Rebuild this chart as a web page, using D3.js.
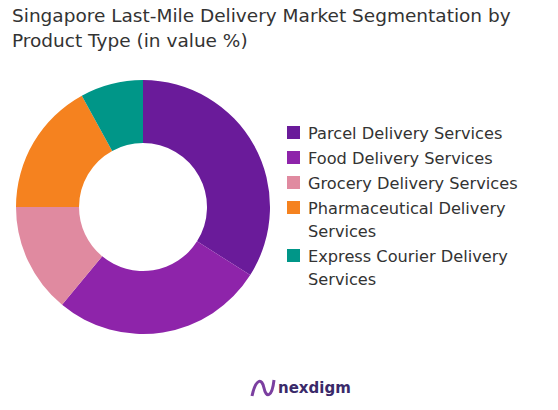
<!DOCTYPE html><html><head><meta charset="utf-8"><script src="https://cdn.jsdelivr.net/npm/d3@7"></script>
<style>body{margin:0;background:#fff}</style></head><body><svg id="c" width="558" height="410"></svg>
<script>
const categories=["Parcel Delivery Services","Food Delivery Services","Grocery Delivery Services","Pharmaceutical Delivery Services","Express Courier Delivery Services"];
const values=[34,27,14,17,8];
const colors=["#6a1b9a","#8e24aa","#e08aa0","#f5821f","#009688"];
const legendLines=[["Parcel Delivery Services"],["Food Delivery Services"],["Grocery Delivery Services"],["Pharmaceutical Delivery","Services"],["Express Courier Delivery","Services"]];
const svg=d3.select("#c"),F="'DejaVu Sans',sans-serif";
svg.append("text").attr("x",12).attr("y",22).attr("font-family",F).attr("font-size",18.5).attr("fill","#333").text("Singapore Last-Mile Delivery Market Segmentation by");
svg.append("text").attr("x",12).attr("y",47).attr("font-family",F).attr("font-size",18.5).attr("fill","#333").text("Product Type (in value %)");
const pie=d3.pie().sort(null)(values);
const arc=d3.arc().innerRadius(64).outerRadius(127);
const g=svg.append("g").attr("transform","translate(143,207)");
g.selectAll("path").data(pie).join("path").attr("d",arc).attr("fill",(d,i)=>colors[i]);
let y=133;
legendLines.forEach((ls,i)=>{
 svg.append("rect").attr("x",287).attr("y",y-7).attr("width",13).attr("height",13).attr("fill",colors[i]);
 ls.forEach((l,j)=>svg.append("text").attr("x",308).attr("y",y+6+j*23).attr("font-family",F).attr("font-size",16.2).attr("fill","#333").text(l));
 y+=ls.length*23+2;
});
svg.append("text").attr("x",278).attr("y",393).attr("font-family",F).attr("font-size",15).attr("font-weight",600).attr("fill","#3a2a6a").text("nexdigm");
svg.append("path").attr("d","M252,396 C256,378 262,378 264,388 C266,398 272,398 274,380").attr("fill","none").attr("stroke","#7b3fa0").attr("stroke-width",3);
</script></body></html>
